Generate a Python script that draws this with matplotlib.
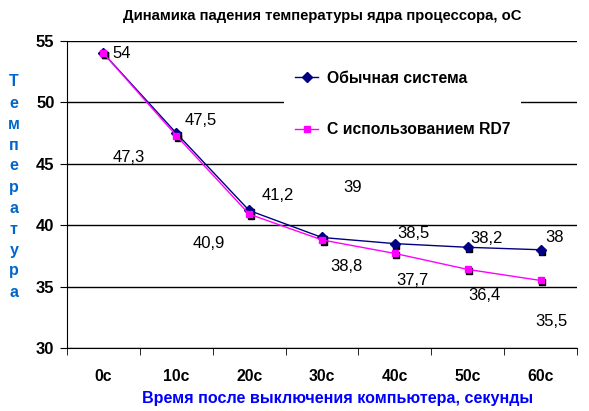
import matplotlib
matplotlib.use('Agg')
import matplotlib.pyplot as plt
from matplotlib.transforms import offset_copy

categories = ['0с', '10с', '20с', '30с', '40с', '50с', '60с']
normal = [54, 47.5, 41.2, 39, 38.5, 38.2, 38]
rd7 = [54, 47.3, 40.9, 38.8, 37.7, 36.4, 35.5]
normal_name = 'Обычная система'
rd7_name = 'С использованием RD7'
title = 'Динамика падения температуры ядра процессора, оС'
xlabel = 'Время после выключения компьютера, секунды'
ylabel = 'Температура'

# label offsets in pixels (dx, dy) relative to the point
normal_off = [(18, 0), (24, 13), (29, 15), (31, 50), (19, 10), (19, 9), (14, 12)]
rd7_off = [None, (-48, -22), (-40, -29), (24, -27), (18, -27), (17, -26), (11, -41)]

plt.rcParams['font.family'] = ['Liberation Sans', 'DejaVu Sans']

fig = plt.figure(figsize=(5.89, 4.11), dpi=100)
ax = fig.add_axes([67 / 589, 63 / 411, 510 / 589, 307 / 411])

x = list(range(len(categories)))
shadow = offset_copy(ax.transData, fig=fig, x=1.5, y=-2, units='dots')

ax.plot(x, normal, ls='none', marker='s', ms=4, color='black', transform=shadow, zorder=3)
ax.plot(x, normal, color='#000080', lw=1, marker='D', ms=5, label=normal_name, zorder=4)
ax.plot(x, rd7, ls='none', marker='s', ms=4.3, color='black', transform=shadow, zorder=5)
ax.plot(x, rd7, color='#FF00FF', lw=1, marker='s', ms=4.3, label=rd7_name, zorder=6)

def fmt(v):
    return ('%g' % v).replace('.', ',')

for i, v in enumerate(normal):
    dx, dy = normal_off[i]
    ax.annotate(fmt(v), (i, v), xytext=(dx, dy), textcoords='offset pixels',
                ha='center', va='center', fontsize=12, zorder=7)
for i, v in enumerate(rd7):
    if rd7_off[i] is None:
        continue
    dx, dy = rd7_off[i]
    ax.annotate(fmt(v), (i, v), xytext=(dx, dy), textcoords='offset pixels',
                ha='center', va='center', fontsize=12, zorder=7)

ax.set_xlim(-0.5, len(categories) - 0.5)
ax.set_ylim(30, 55)
ax.set_yticks([30, 35, 40, 45, 50, 55])
ax.set_xticks(x)
ax.set_xticklabels(categories, fontweight='bold', fontsize=11.3)
ax.set_xticks([i - 0.5 for i in range(len(categories) + 1)], minor=True)
ax.tick_params(axis='x', which='major', length=0, pad=15)
ax.tick_params(axis='x', which='minor', length=5, direction='out', color='black')
ax.tick_params(axis='y', length=5, direction='out', color='black', labelsize=12, pad=4)
for t in ax.get_yticklabels():
    t.set_fontweight('bold')

ax.set_axisbelow(True)
ax.yaxis.grid(True, color='black', lw=1)
for s in ['top', 'right']:
    ax.spines[s].set_visible(False)
ax.spines['left'].set_color('black')
ax.spines['bottom'].set_color('black')

ax.legend(loc='center left', bbox_to_anchor=(276 / 589, 1 - 104 / 411),
          bbox_transform=fig.transFigure, frameon=True, facecolor='white',
          edgecolor='none', framealpha=1, fancybox=False, borderpad=0.7,
          labelspacing=2.3, handlelength=1.5, handletextpad=0.55,
          prop={'weight': 'bold', 'size': 11.3})

fig.text(322 / 589, 1 - 16 / 411, title, ha='center', va='center',
         fontweight='bold', fontsize=10.7)
fig.text(338 / 589, 1 - 398 / 411, xlabel, ha='center', va='center',
         fontweight='bold', fontsize=11.6, color='#0000FF')
for k, ch in enumerate(ylabel):
    fig.text(14 / 589, 1 - (82 + 21 * k) / 411, ch, ha='center', va='center',
             fontweight='bold', fontsize=11.5, color='#0066CC')

fig.savefig('out.png', dpi=100)
